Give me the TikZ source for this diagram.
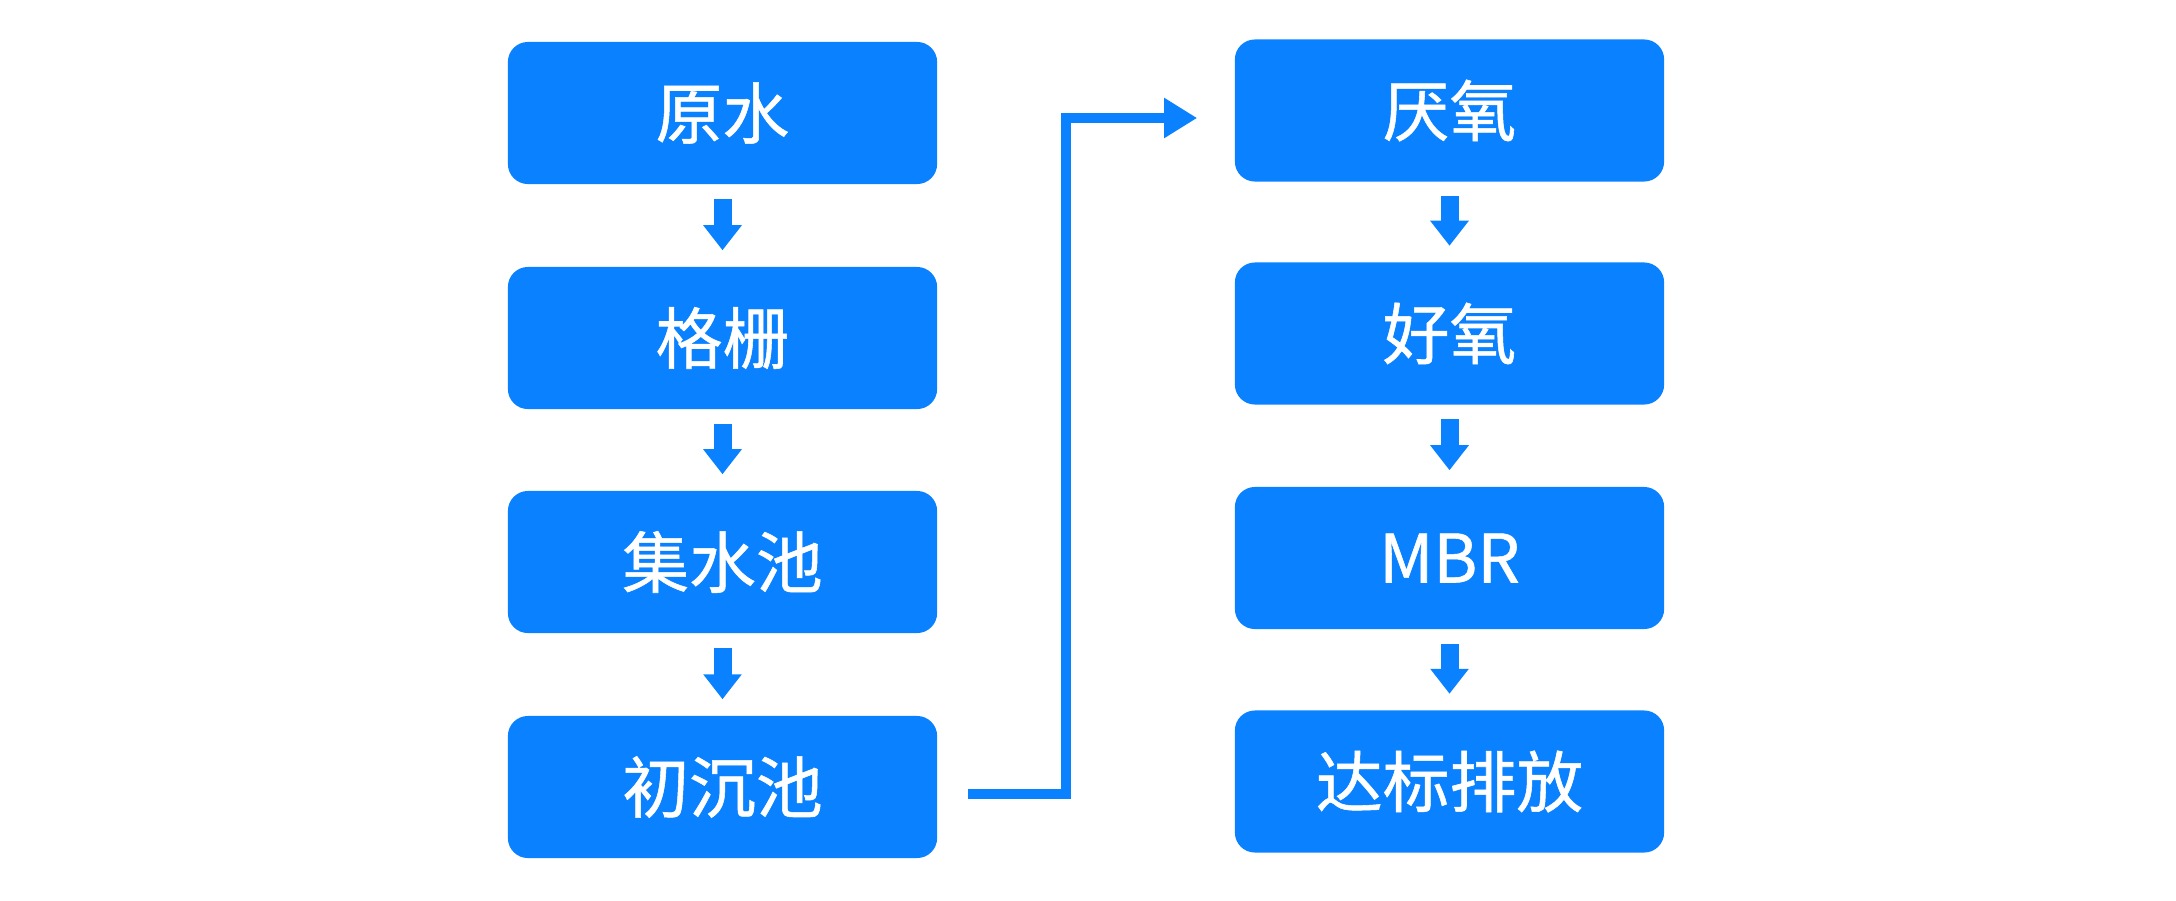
\documentclass[tikz,border=0pt]{standalone}
\usepackage{fontspec}
\setmainfont{Noto Sans CJK SC}[FakeBold=0.8]
\usetikzlibrary{arrows.meta,calc}
\definecolor{flowblue}{RGB}{10,130,255}
\tikzset{
	box/.style={fill=flowblue, text=white, rounded corners=0.2cm, minimum width=4.29cm, minimum height=1.42cm, inner sep=0pt, font=\fontsize{19pt}{19pt}\selectfont},
	down/.style={flowblue, line width=0.18cm, -{Triangle[width=0.37cm,length=0.25cm]}},
	link/.style={flowblue, line width=0.1cm, line join=miter, -{Triangle[width=0.38cm,length=0.33cm]}}
}
\begin{document}
\begin{tikzpicture}[x=0.01cm, y=-0.01cm]
	\useasboundingbox (0,0) rectangle (2176,900);
	\foreach \n/\t/\y in {a1/原水/113, a2/格栅/338, a3/集水池/562, a4/初沉池/787} {
		\node[box] (\n) at (722.5,\y) {\t};
	}
	\foreach \n/\t/\y in {b1/厌氧/110.5, b2/好氧/333.5, b3/MBR/558, b4/达标排放/781.5} {
		\node[box] (\n) at (1449.5,\y) {\t};
	}
	\foreach \u/\v in {a1/a2, a2/a3, a3/a4, b1/b2, b2/b3, b3/b4} {
		\draw[down] ($(\u.south)+(0,14)$) -- ($(\v.north)+(0,-16)$);
	}
	\draw[link] ($(a4.east)+(30,7)$) coordinate (s) -| (1066,118) -- ($(b1.west)+(-37,7.5)$);
\end{tikzpicture}
\end{document}
